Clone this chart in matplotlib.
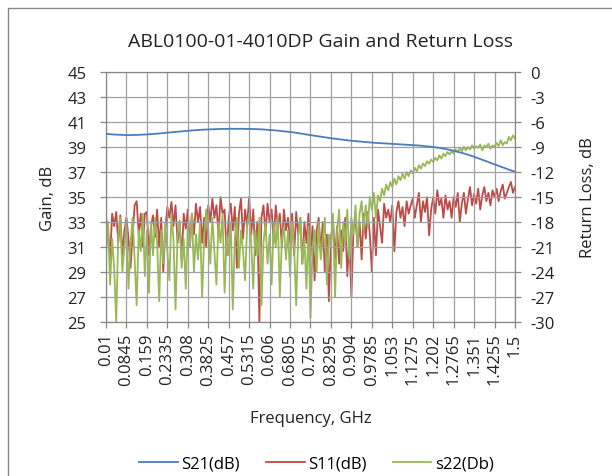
#!/usr/bin/env python3
import numpy as np
import matplotlib as mpl
mpl.use('Agg')
import matplotlib.pyplot as plt
from matplotlib.patches import Rectangle

# +
# data
# -
freq_start = 0.01
freq_step = 0.00745
n_pts = 201

s21 = [
    40.05, 40.04, 40.02, 40.01, 40.00, 39.99, 39.98, 39.98, 39.97, 39.96,
    39.95, 39.96, 39.95, 39.96, 39.97, 39.96, 39.98, 39.98, 39.99, 40.00,
    40.00, 40.02, 40.03, 40.04, 40.06, 40.07, 40.08, 40.10, 40.11, 40.13,
    40.15, 40.16, 40.18, 40.19, 40.21, 40.22, 40.24, 40.25, 40.27, 40.28,
    40.30, 40.31, 40.33, 40.33, 40.35, 40.36, 40.37, 40.38, 40.39, 40.40,
    40.40, 40.41, 40.42, 40.42, 40.43, 40.44, 40.44, 40.45, 40.44, 40.45,
    40.45, 40.46, 40.45, 40.46, 40.46, 40.45, 40.46, 40.45, 40.45, 40.44,
    40.45, 40.44, 40.44, 40.43, 40.43, 40.42, 40.41, 40.40, 40.39, 40.37,
    40.36, 40.35, 40.34, 40.32, 40.31, 40.29, 40.27, 40.25, 40.24, 40.22,
    40.20, 40.18, 40.16, 40.13, 40.11, 40.08, 40.06, 40.03, 40.00, 39.98,
    39.95, 39.93, 39.90, 39.88, 39.85, 39.83, 39.80, 39.78, 39.75, 39.73,
    39.70, 39.68, 39.66, 39.64, 39.62, 39.60, 39.58, 39.56, 39.54, 39.52,
    39.50, 39.49, 39.47, 39.46, 39.44, 39.43, 39.41, 39.40, 39.38, 39.37,
    39.35, 39.34, 39.33, 39.32, 39.31, 39.30, 39.29, 39.28, 39.27, 39.26,
    39.25, 39.24, 39.23, 39.22, 39.21, 39.20, 39.19, 39.18, 39.17, 39.16,
    39.15, 39.14, 39.13, 39.12, 39.10, 39.09, 39.07, 39.05, 39.04, 39.02,
    39.00, 38.98, 38.95, 38.93, 38.90, 38.87, 38.84, 38.81, 38.77, 38.74,
    38.70, 38.66, 38.62, 38.57, 38.53, 38.48, 38.43, 38.38, 38.33, 38.27,
    38.22, 38.16, 38.10, 38.04, 37.98, 37.92, 37.86, 37.80, 37.73, 37.67,
    37.61, 37.55, 37.49, 37.43, 37.37, 37.31, 37.25, 37.19, 37.13, 37.08,
    37.03,
]

s11 = [
    -17.5, -19.0, -22.5, -17.0, -18.5, -16.8, -20.5, -17.2, -22.0, -19.0,
    -17.5, -20.0, -23.5, -19.5, -16.0, -15.5, -19.5, -17.0, -21.0, -17.0,
    -16.8, -22.0, -18.5, -17.2, -19.8, -16.5, -21.0, -17.5, -24.0, -19.0,
    -16.2, -17.5, -15.6, -18.5, -16.0, -20.5, -18.0, -22.5, -17.0, -18.8,
    -16.5, -21.0, -17.0, -19.5, -15.8, -18.0, -16.2, -20.5, -17.5, -21.0,
    -16.0, -18.0, -15.2, -17.5, -16.0, -19.5, -15.0, -17.0, -16.5, -22.0,
    -17.5, -15.8, -19.0, -16.2, -23.5, -17.0, -15.2, -20.0, -16.5, -18.5,
    -15.0, -19.5, -16.5, -22.0, -18.0, -30.0, -17.5, -16.0, -19.5, -15.8,
    -18.0, -16.5, -20.5, -16.0, -18.5, -17.0, -21.0, -16.5, -19.0, -17.5,
    -20.5, -17.0, -22.0, -16.8, -19.5, -17.5, -23.0, -18.0, -20.5, -17.0,
    -22.0, -18.5, -25.0, -19.0, -17.5, -21.5, -18.0, -24.0, -19.5, -27.5,
    -20.0, -17.8, -22.5, -18.5, -23.0, -19.0, -21.5, -17.5, -24.5, -20.0,
    -27.0, -19.0, -17.5, -21.0, -18.0, -22.5, -17.0, -20.0, -16.8, -19.5,
    -24.0, -17.5, -22.0, -16.5, -18.5, -20.5, -15.8, -17.5, -16.5, -18.0,
    -16.0, -21.5, -16.8, -15.5, -17.5, -16.2, -18.5, -15.5, -17.0, -16.0,
    -15.2, -17.5, -16.0, -14.5, -18.0, -15.5, -16.8, -15.0, -19.6, -16.5,
    -15.0, -17.0, -14.2, -16.0, -15.2, -17.5, -14.8, -16.5, -15.5, -17.5,
    -15.0, -16.2, -14.5, -18.0, -15.8, -14.5, -17.0, -15.2, -13.8, -16.0,
    -14.6, -15.8, -14.0, -16.5, -14.8, -13.8, -15.5, -14.5, -16.0, -14.2,
    -15.0, -14.0, -15.5, -14.3, -13.5, -15.2, -14.5, -13.8, -13.2, -14.5,
    -13.8,
]

s22 = [
    -22.0, -18.0, -25.5, -20.0, -23.5, -30.0, -19.5, -17.5, -24.0, -21.0,
    -18.0, -26.0, -20.5, -17.5, -22.5, -28.0, -19.0, -21.5, -17.0, -24.5,
    -19.0, -26.5, -18.0, -22.0, -17.5, -20.5, -27.5, -19.0, -23.0, -18.0,
    -21.5, -25.0, -17.2, -20.0, -28.5, -19.5, -17.8, -23.5, -20.0, -26.0,
    -18.5, -21.0, -17.0, -24.0, -19.5, -22.5, -18.0, -27.0, -20.0, -16.5,
    -19.0, -23.0, -17.5, -21.5, -25.5, -18.0, -20.5, -17.0, -26.5, -19.5,
    -22.0, -18.0, -28.5, -20.0, -17.5, -23.5, -19.0, -21.5, -25.0, -18.5,
    -17.0, -20.5, -26.0, -19.0, -22.0, -17.5, -28.0, -20.5, -18.0, -23.0,
    -19.5, -25.5, -18.0, -21.0, -17.5, -27.0, -20.0, -18.5, -22.5, -19.0,
    -24.5, -18.0, -21.0, -28.0, -19.5, -17.5, -23.0, -20.0, -26.0, -18.5,
    -29.5, -21.0, -19.0, -24.0, -18.0, -22.5, -20.0, -17.5, -25.5, -19.5,
    -21.0, -17.0, -27.0, -19.0, -16.5, -23.5, -18.0, -20.5, -16.5, -22.5,
    -17.5, -19.5, -16.0, -21.0, -17.0, -15.5, -19.0, -16.0, -18.5, -15.0,
    -16.5, -14.5, -17.5, -14.8, -15.5, -14.0, -14.8, -13.5, -14.2, -13.2,
    -13.8, -12.8, -13.5, -12.5, -13.0, -12.2, -12.8, -12.0, -12.5, -11.8,
    -12.2, -11.5, -11.9, -11.2, -11.6, -11.0, -11.3, -10.7, -11.0, -10.5,
    -10.8, -10.3, -10.6, -10.0, -10.4, -9.8, -10.1, -9.6, -9.9, -9.5,
    -9.8, -9.3, -9.6, -9.1, -9.5, -9.0, -9.4, -9.0, -9.3, -8.8,
    -9.2, -8.9, -9.1, -8.7, -9.4, -8.8, -9.0, -8.6, -9.2, -8.8,
    -9.0, -8.5, -8.9, -8.2, -8.8, -8.4, -8.6, -7.8, -8.2, -7.6,
    -8.0,
]

gain_ticks = [25, 27, 29, 31, 33, 35, 37, 39, 41, 43, 45]
rl_ticks = [-30, -27, -24, -21, -18, -15, -12, -9, -6, -3, 0]

# +
# style
# -
FONT = ['Open Sans', 'DejaVu Sans']
BLUE = '#4a7ebb'
RED = '#be4b48'
GREEN = '#98b954'
GRID = '#a0a0a0'
TEXT = '#222222'
FS = 12

plt.rcParams['font.family'] = FONT
plt.rcParams['axes.unicode_minus'] = False

# +
# plot
# -
freq = np.round(freq_start + freq_step * np.arange(n_pts), 5)
idx = np.arange(n_pts)

fig = plt.figure(figsize=(6.12, 4.77), dpi=100)
fig.patches.append(Rectangle((8 / 612, -0.1), 1.2, 1.1 - 9 / 477, transform=fig.transFigure,
                             fill=False, edgecolor='#888888', lw=1.0))

ax = fig.add_axes([106 / 612, 1 - 323 / 477, 409 / 612, 250 / 477])
ax2 = ax.twinx()

l1, = ax.plot(idx, s21, color=BLUE, lw=1.3, label='S21(dB)', zorder=3)
l2, = ax2.plot(idx, s11, color=RED, lw=1.3, label='S11(dB)')
l3, = ax2.plot(idx, s22, color=GREEN, lw=1.3, label='s22(Db)')
ax.set_zorder(ax2.get_zorder() + 1)
ax.patch.set_visible(False)

ax.set_xlim(0, n_pts - 1)
ax.set_ylim(25, 45)
ax2.set_ylim(-30, 0)
ax.set_yticks(gain_ticks)
ax2.set_yticks(rl_ticks)

ax.set_xticks(idx[::10])
ax.set_xticklabels([f'{f:g}' for f in freq[::10]], rotation=90)

ax.grid(True, color=GRID, lw=0.9)
for a in (ax, ax2):
    for s in a.spines.values():
        s.set_color('#868686')
    a.tick_params(colors='#868686', labelcolor=TEXT, labelsize=FS, length=4, width=0.9)
ax.tick_params(axis='y', pad=10)
ax2.tick_params(axis='y', pad=7)

ax.set_ylabel('Gain, dB', fontsize=FS, color=TEXT, labelpad=8)
ax2.set_ylabel('Return Loss, dB', fontsize=FS, color=TEXT, labelpad=18)
ax.set_xlabel('Frequency, GHz', fontsize=FS, color=TEXT, labelpad=18)
ax.set_title('ABL0100-01-4010DP Gain and Return Loss', fontsize=14, color=TEXT,
             pad=19, x=0.525)

fig.legend(handles=[l1, l2, l3], loc='center', bbox_to_anchor=(0.517, 1 - 465 / 477),
           ncol=3, frameon=False, fontsize=FS, handlelength=2.3, columnspacing=1.6,
           handletextpad=0.2)

plt.savefig('out.png', dpi=100)
plt.close()
